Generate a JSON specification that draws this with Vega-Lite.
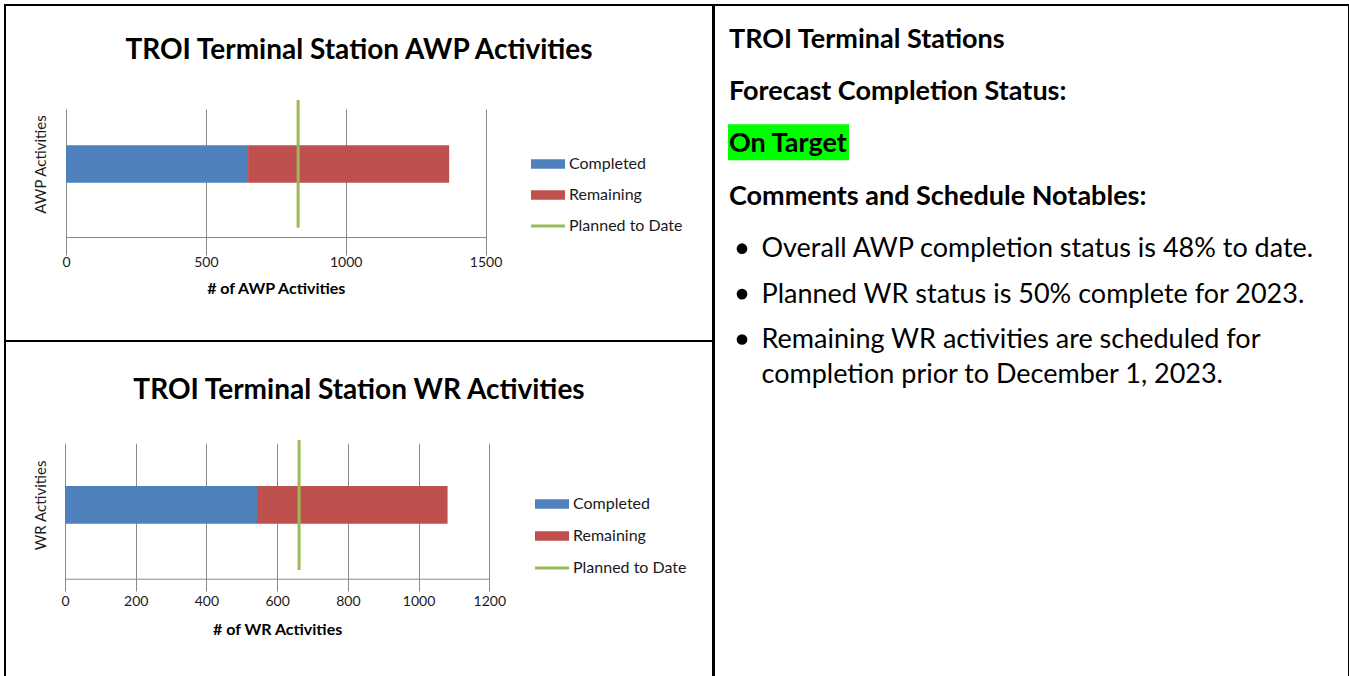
{
  "$schema": "https://vega.github.io/schema/vega-lite/v6.json",
  "background": "white",
  "padding": {"left": 4, "top": 4, "right": 0, "bottom": 0},
  "spacing": -2,
  "config": {
    "font": "Lato",
    "view": {"stroke": "black", "strokeWidth": 2},
    "axis": {"labelFont": "Lato", "titleFont": "Lato"},
    "legend": {"labelFont": "Lato"}
  },
  "datasets": {
    "awp": [
      {"measure": "Completed", "count": 651},
      {"measure": "Remaining", "count": 719},
      {"measure": "Planned to Date", "count": 830}
    ],
    "wr": [
      {"measure": "Completed", "count": 543},
      {"measure": "Remaining", "count": 539},
      {"measure": "Planned to Date", "count": 662}
    ],
    "notes": [
      {"kind": "heading", "line": 1, "text": "TROI Terminal Stations", "highlight": false},
      {"kind": "heading", "line": 2, "text": "Forecast Completion Status:", "highlight": false},
      {"kind": "heading", "line": 3, "text": "On Target", "highlight": true},
      {"kind": "heading", "line": 4, "text": "Comments and Schedule Notables:", "highlight": false},
      {"kind": "bullet", "line": 1, "text": "Overall AWP completion status is 48% to date.", "highlight": false},
      {"kind": "bullet", "line": 2, "text": "Planned WR status is 50% complete for 2023.", "highlight": false},
      {"kind": "bullet", "line": 3, "text": "Remaining WR activities are scheduled for\ncompletion prior to December 1, 2023.", "highlight": false}
    ]
  },
  "resolve": {"scale": {"color": "independent"}, "legend": {"color": "independent"}},
  "hconcat": [
    {
      "vconcat": [
        {
          "width": 708,
          "height": 336,
          "title": {"text": "TROI Terminal Station AWP Activities", "font": "Lato", "fontSize": 28, "fontWeight": "bold", "color": "#000000", "anchor": "middle", "frame": "group", "offset": -82, "baseline": "alphabetic"},
          "data": {"name": "awp"},
          "layer": [
            {
              "transform": [
                {"filter": "datum.measure !== 'Planned to Date'"},
                {"stack": "count", "groupby": [], "sort": [{"field": "measure", "order": "ascending"}], "as": ["x0", "x1"]}
              ],
              "mark": {"type": "bar", "strokeWidth": 0},
              "encoding": {
                "x": {
                  "field": "x0", "type": "quantitative",
                  "scale": {"domain": [0, 1500], "range": [61, 480.5], "nice": false, "zero": false},
                  "axis": {"values": [0, 500, 1000, 1500], "offset": -104, "grid": true, "gridColor": "#8a8a8a", "gridWidth": 1, "domainColor": "#8a8a8a", "tickColor": "#8a8a8a", "tickSize": 4, "labelFontSize": 14, "labelColor": "#1a1a1a", "labelPadding": 14, "labelFlush": false, "format": "d", "titleFontSize": 16, "titleFontWeight": "bold", "titleColor": "#000000", "titleY": 51, "titleBaseline": "middle"},
                  "title": "# of AWP Activities"
                },
                "x2": {"field": "x1"},
                "y": {
                  "datum": 0.372, "type": "quantitative",
                  "scale": {"domain": [0, 1], "range": [232, 86], "nice": false, "zero": false},
                  "axis": {"labels": false, "ticks": false, "domain": true, "domainOpacity": 0, "grid": false, "offset": -61, "titleX": -25.5, "titleBaseline": "middle", "titleAlign": "center", "titleAngle": -90, "titleFontSize": 15, "titleFontWeight": "normal", "titleColor": "#1a1a1a", "title": "AWP Activities"},
                  "title": "AWP Activities"
                },
                "y2": {"datum": 0.628},
                "color": {
                  "field": "measure", "type": "nominal",
                  "scale": {"domain": ["Completed", "Remaining", "Planned to Date"], "range": ["#4F81BD", "#C0504D", "#9BBB59"]},
                  "legend": {
                    "title": null, "orient": "none", "legendX": 535, "legendY": 151,
                    "labelFontSize": 16, "labelColor": "#1a1a1a", "labelOffset": 13, "symbolSize": 1156, "rowPadding": 15,
                    "encode": {"symbols": {"update": {
                      "shape": {"signal": "datum.label === 'Planned to Date' ? 'M-1,0H1' : 'M-1,-0.28H1V0.28H-1Z'"},
                      "fill": {"signal": "datum.label === 'Completed' ? '#4F81BD' : datum.label === 'Remaining' ? '#C0504D' : 'transparent'"},
                      "stroke": {"signal": "datum.label === 'Planned to Date' ? '#9BBB59' : 'transparent'"},
                      "strokeWidth": {"signal": "datum.label === 'Planned to Date' ? 3 : 0"},
                      "opacity": {"value": 1}
                    }}}
                  }
                }
              }
            },
            {
              "transform": [{"filter": "datum.measure === 'Planned to Date'"}],
              "mark": {"type": "rule", "strokeWidth": 3},
              "encoding": {
                "x": {"field": "count", "type": "quantitative", "title": "# of AWP Activities"},
                "y": {"datum": 0.064, "type": "quantitative", "title": "AWP Activities"},
                "y2": {"datum": 0.938},
                "color": {"field": "measure", "type": "nominal"}
              }
            }
          ]
        },
        {
          "width": 708,
          "height": 340,
          "title": {"text": "TROI Terminal Station WR Activities", "font": "Lato", "fontSize": 28, "fontWeight": "bold", "color": "#000000", "anchor": "middle", "frame": "group", "offset": -86, "baseline": "alphabetic"},
          "data": {"name": "wr"},
          "layer": [
            {
              "transform": [
                {"filter": "datum.measure !== 'Planned to Date'"},
                {"stack": "count", "groupby": [], "sort": [{"field": "measure", "order": "ascending"}], "as": ["x0", "x1"]}
              ],
              "mark": {"type": "bar", "strokeWidth": 0},
              "encoding": {
                "x": {
                  "field": "x0", "type": "quantitative",
                  "scale": {"domain": [0, 1200], "range": [60, 484.3], "nice": false, "zero": false},
                  "axis": {"values": [0, 200, 400, 600, 800, 1000, 1200], "offset": -102.3, "grid": true, "gridColor": "#8a8a8a", "gridWidth": 1, "domainColor": "#8a8a8a", "tickColor": "#8a8a8a", "tickSize": 4, "labelFontSize": 14, "labelColor": "#1a1a1a", "labelPadding": 12, "labelFlush": false, "format": "d", "titleFontSize": 16, "titleFontWeight": "bold", "titleColor": "#000000", "titleY": 51, "titleBaseline": "middle"},
                  "title": "# of WR Activities"
                },
                "x2": {"field": "x1"},
                "y": {
                  "datum": 0.372, "type": "quantitative",
                  "scale": {"domain": [0, 1], "range": [237.7, 90], "nice": false, "zero": false},
                  "axis": {"labels": false, "ticks": false, "domain": true, "domainOpacity": 0, "grid": false, "offset": -60, "titleX": -25, "titleBaseline": "middle", "titleAlign": "center", "titleAngle": -90, "titleFontSize": 15, "titleFontWeight": "normal", "titleColor": "#1a1a1a", "title": "WR Activities"},
                  "title": "WR Activities"
                },
                "y2": {"datum": 0.628},
                "color": {
                  "field": "measure", "type": "nominal",
                  "scale": {"domain": ["Completed", "Remaining", "Planned to Date"], "range": ["#4F81BD", "#C0504D", "#9BBB59"]},
                  "legend": {
                    "title": null, "orient": "none", "legendX": 539, "legendY": 155,
                    "labelFontSize": 16, "labelColor": "#1a1a1a", "labelOffset": 13, "symbolSize": 1156, "rowPadding": 16,
                    "encode": {"symbols": {"update": {
                      "shape": {"signal": "datum.label === 'Planned to Date' ? 'M-1,0H1' : 'M-1,-0.28H1V0.28H-1Z'"},
                      "fill": {"signal": "datum.label === 'Completed' ? '#4F81BD' : datum.label === 'Remaining' ? '#C0504D' : 'transparent'"},
                      "stroke": {"signal": "datum.label === 'Planned to Date' ? '#9BBB59' : 'transparent'"},
                      "strokeWidth": {"signal": "datum.label === 'Planned to Date' ? 3 : 0"},
                      "opacity": {"value": 1}
                    }}}
                  }
                }
              }
            },
            {
              "transform": [{"filter": "datum.measure === 'Planned to Date'"}],
              "mark": {"type": "rule", "strokeWidth": 3},
              "encoding": {
                "x": {"field": "count", "type": "quantitative", "title": "# of WR Activities"},
                "y": {"datum": 0.059, "type": "quantitative", "title": "WR Activities"},
                "y2": {"datum": 0.939},
                "color": {"field": "measure", "type": "nominal"}
              }
            }
          ]
        }
      ],
      "spacing": 0,
      "bounds": "flush",
      "resolve": {"scale": {"color": "independent"}, "legend": {"color": "independent"}}
    },
    {
      "width": 635,
      "height": 676,
      "data": {"name": "notes"},
      "resolve": {"scale": {"y": "independent"}},
      "layer": [
        {
          "transform": [{"filter": "datum.highlight"}],
          "mark": {"type": "point", "filled": true, "fill": "#00FF00", "opacity": 1, "strokeWidth": 0, "size": 1296, "shape": "M-0.06,-1.12H6.67V0.88H-0.06Z"},
          "encoding": {
            "x": {"field": "kind", "type": "nominal", "scale": {"type": "point", "domain": ["heading", "bullet"], "range": [15, 47.5], "padding": 0}, "axis": null},
            "y": {"field": "line", "type": "quantitative", "scale": {"domain": [1, 4], "range": [35, 191.5], "nice": false, "zero": false}, "axis": null}
          }
        },
        {
          "transform": [{"filter": "datum.kind === 'heading'"}],
          "mark": {"type": "text", "align": "left", "baseline": "middle", "font": "Lato", "fontWeight": "bold", "fontSize": 27, "color": "#000000"},
          "encoding": {
            "x": {"field": "kind", "type": "nominal", "axis": null},
            "y": {"field": "line", "type": "quantitative", "scale": {"domain": [1, 4], "range": [35, 191.5], "nice": false, "zero": false}, "axis": null},
            "text": {"field": "text"}
          }
        },
        {
          "transform": [{"filter": "datum.kind === 'bullet'"}],
          "mark": {"type": "point", "filled": true, "shape": "circle", "size": 115, "color": "#000000", "opacity": 1},
          "encoding": {
            "x": {"field": "kind", "type": "nominal", "axis": null},
            "xOffset": {"value": -19.5},
            "y": {"field": "line", "type": "quantitative", "scale": {"domain": [1, 3], "range": [243.7, 334.5], "nice": false, "zero": false}, "axis": null}
          }
        },
        {
          "transform": [{"filter": "datum.kind === 'bullet'"}],
          "mark": {"type": "text", "align": "left", "baseline": "top", "font": "Lato", "fontSize": 27, "lineHeight": 35, "lineBreak": "\n", "color": "#000000"},
          "encoding": {
            "x": {"field": "kind", "type": "nominal", "axis": null},
            "y": {"field": "line", "type": "quantitative", "scale": {"domain": [1, 3], "range": [231.4, 322.2], "nice": false, "zero": false}, "axis": null},
            "text": {"field": "text"}
          }
        }
      ]
    }
  ]
}
